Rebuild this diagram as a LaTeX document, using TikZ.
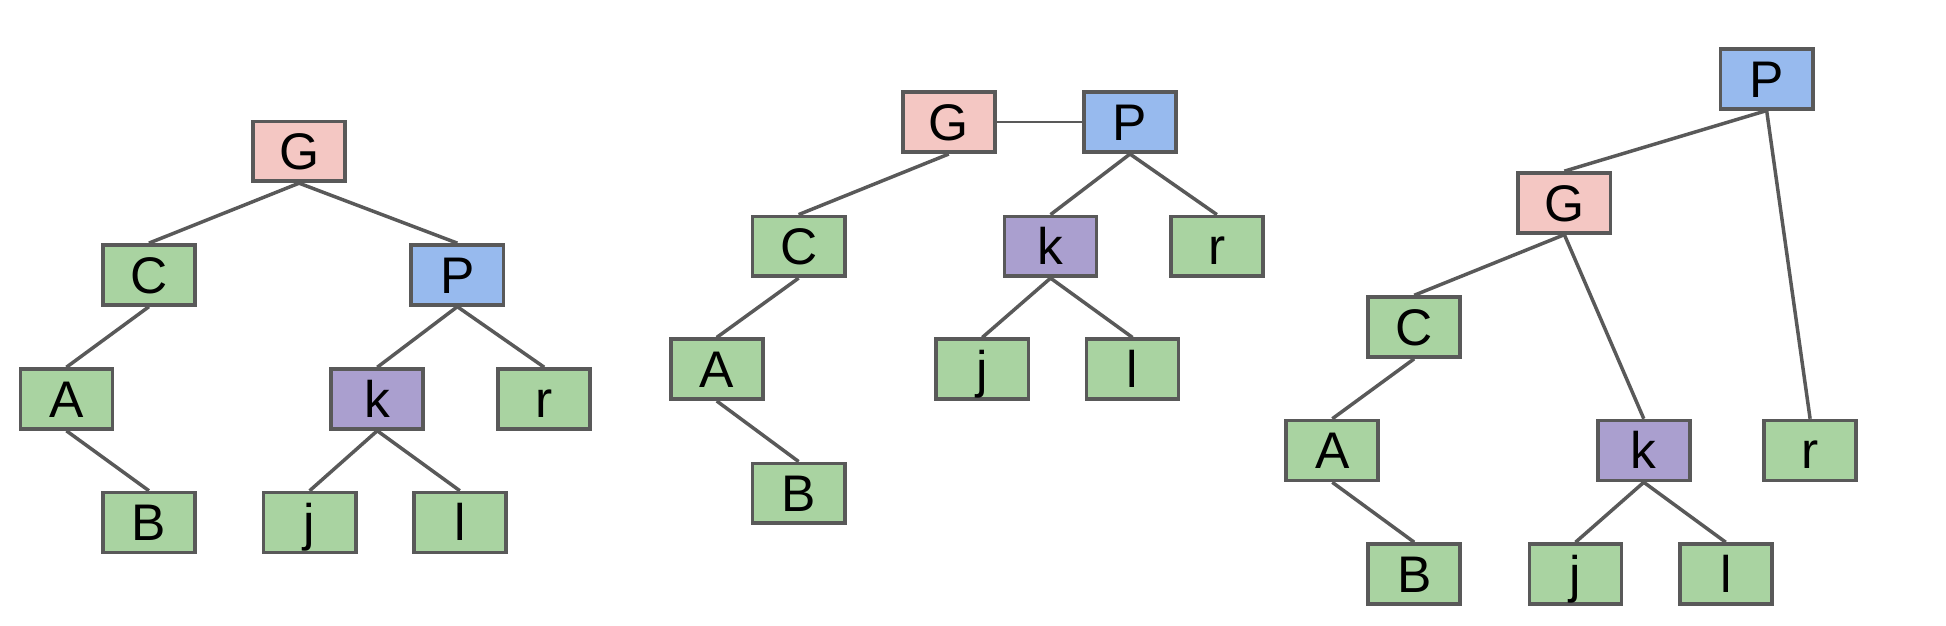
\documentclass[tikz,border=0pt]{standalone}
\usepackage{fontspec}
\setmainfont{Liberation Sans}
\definecolor{box_line}{HTML}{595959}
\definecolor{pink_fill}{HTML}{F4C7C3}
\definecolor{blue_fill}{HTML}{97BAEE}
\definecolor{purple_fill}{HTML}{AA9FCF}
\definecolor{green_fill}{HTML}{A9D3A1}
\begin{document}
\begin{tikzpicture}[x=0.1mm,y=-0.1mm]
        \tikzstyle{node_style} = [rectangle,draw=box_line,line width=0.85pt,minimum width=7.42mm,minimum height=4.82mm,inner sep=0pt,text height=8.45pt,text depth=0pt,font=\fontsize{11.8}{14}\selectfont]
        \tikzstyle{g_style} = [node_style,fill=pink_fill]
        \tikzstyle{p_style} = [node_style,fill=blue_fill]
        \tikzstyle{k_style} = [node_style,fill=purple_fill]
        \tikzstyle{leaf_style} = [node_style,fill=green_fill]
        \tikzstyle{edge_style} = [draw=box_line,line width=0.8pt]
        \useasboundingbox (0,0) rectangle (1568,504);
        % first tree
        \node[g_style] (aG) at (241,122) {G};
        \node[leaf_style] (aC) at (120,221.5) {C};
        \node[p_style] (aP) at (368.5,221.5) {P};
        \node[leaf_style] (aA) at (53.5,321.5) {A};
        \node[k_style] (ak) at (304,321.5) {k};
        \node[leaf_style] (ar) at (438.5,321.5) {r};
        \node[leaf_style] (aB) at (120,421) {B};
        \node[leaf_style] (aj) at (249.5,421) {j};
        \node[leaf_style] (al) at (370.5,421) {l};
        % second tree
        \node[g_style] (bG) at (764.5,98.5) {G};
        \node[p_style] (bP) at (910.5,98.5) {P};
        \node[leaf_style] (bC) at (643.5,198.5) {C};
        \node[k_style] (bk) at (846.5,198.5) {k};
        \node[leaf_style] (br) at (980.5,198.5) {r};
        \node[leaf_style] (bA) at (577.5,297.5) {A};
        \node[leaf_style] (bj) at (791.5,297.5) {j};
        \node[leaf_style] (bl) at (912.5,297.5) {l};
        \node[leaf_style] (bB) at (643.5,397.5) {B};
        % third tree
        \node[p_style] (cP) at (1423.5,63.5) {P};
        \node[g_style] (cG) at (1260.5,163.5) {G};
        \node[leaf_style] (cC) at (1139.5,263.5) {C};
        \node[leaf_style] (cA) at (1073.5,363) {A};
        \node[k_style] (ck) at (1324.5,363) {k};
        \node[leaf_style] (cr) at (1458.5,363) {r};
        \node[leaf_style] (cB) at (1139.5,462.5) {B};
        \node[leaf_style] (cj) at (1269.5,462.5) {j};
        \node[leaf_style] (cl) at (1390.5,462.5) {l};
        \foreach \from/\to in {aG/aC,aG/aP,aC/aA,aA/aB,aP/ak,aP/ar,ak/aj,ak/al,
                bG/bC,bC/bA,bA/bB,bP/bk,bP/br,bk/bj,bk/bl,
                cP/cG,cP/cr,cG/cC,cG/ck,cC/cA,cA/cB,ck/cj,ck/cl}
            \draw[edge_style] (\from.south) -- (\to.north);
        \draw[draw=box_line,line width=0.4pt] (bG.east) -- (bP.west);
      \end{tikzpicture}
\end{document}
